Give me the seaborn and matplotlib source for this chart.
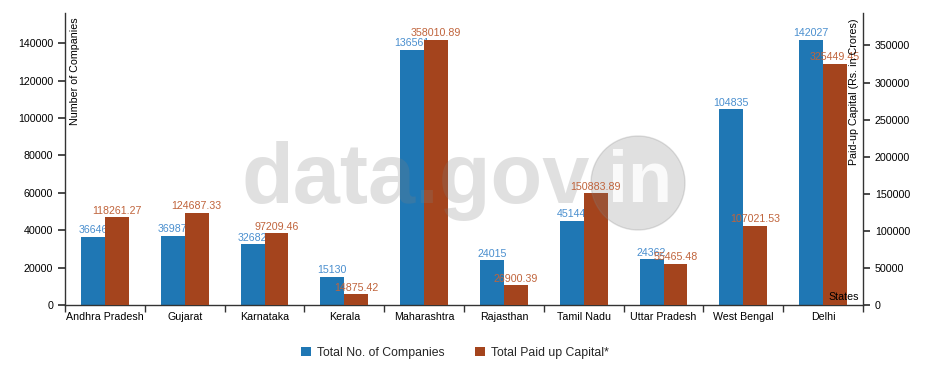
import numpy as np
import pandas as pd
import matplotlib
matplotlib.use('Agg')
import matplotlib.pyplot as plt
from matplotlib.patches import Circle
import seaborn as sns

states = ['Andhra Pradesh', 'Gujarat', 'Karnataka', 'Kerala', 'Maharashtra',
          'Rajasthan', 'Tamil Nadu', 'Uttar Pradesh', 'West Bengal', 'Delhi']
companies = [36646, 36987, 32682, 15130, 136561, 24015, 45144, 24362, 104835, 142027]
capital = [118261.27, 124687.33, 97209.46, 14875.42, 358010.89, 26900.39,
           150883.89, 55465.48, 107021.53, 325449.45]
series = ['Total No. of Companies', 'Total Paid up Capital*']

BLUE = '#1f77b4'
BROWN = '#a4441d'
BLUE_TXT = '#4a8fcf'
BROWN_TXT = '#c0643c'
AXIS = '#333333'
FS = 7.7

sns.set_theme(style='ticks')
plt.rcParams['font.family'] = ['Liberation Sans', 'DejaVu Sans']

n = len(states)
df = pd.DataFrame({
    'state': states * 2,
    'series': [series[0]] * n + [series[1]] * n,
    'left': companies + [np.nan] * n,
    'right': [np.nan] * n + capital,
})

fig = plt.figure(figsize=(9.26, 3.78), dpi=100)
ax = fig.add_axes([65 / 926, 1 - 305 / 378, (863 - 65) / 926, (305 - 13) / 378])
ax2 = ax.twinx()

pal = {series[0]: BLUE, series[1]: BROWN}
sns.barplot(data=df, x='state', y='left', hue='series', hue_order=series, palette=pal,
            width=0.6, gap=0, saturation=1, legend=False, ax=ax, order=states, linewidth=0)
sns.barplot(data=df, x='state', y='right', hue='series', hue_order=series, palette=pal,
            width=0.6, gap=0, saturation=1, legend=False, ax=ax2, order=states, linewidth=0)


def real_container(a):
    for c in a.containers:
        if len(c) and all(p is not None for p in c):
            return c


c_left = real_container(ax)
c_right = real_container(ax2)

ax.set_ylim(0, max(companies) * 1.1)
ax2.set_ylim(0, max(capital) * 1.1)
ax.set_xlim(-0.5, n - 0.5)
ax2.set_xlim(-0.5, n - 0.5)

ax.bar_label(c_left, labels=[str(v) for v in companies], padding=1,
             color=BLUE_TXT, fontsize=FS)
ax2.bar_label(c_right, labels=['%.2f' % v for v in capital], padding=1,
              color=BROWN_TXT, fontsize=FS)

ax.set_xlabel('')
ax.set_ylabel('')
ax2.set_ylabel('')
ax.set_xticks(range(n))
ax.set_xticklabels(states)
ax.set_xticks(np.arange(-0.5, n), minor=True)
ax.tick_params(axis='x', which='major', length=0, pad=5, labelsize=FS, colors='black')
ax.tick_params(axis='x', which='minor', length=5, color=AXIS)
ax.set_yticks(np.arange(0, 140001, 20000))
ax.tick_params(axis='y', length=5, labelsize=FS, color=AXIS, labelcolor='black')
ax2.set_yticks(np.arange(0, 350001, 50000))
ax2.tick_params(axis='y', length=5, labelsize=FS, color=AXIS, labelcolor='black')

for a in (ax, ax2):
    a.spines['top'].set_visible(False)
    for s in a.spines.values():
        s.set_color(AXIS)
        s.set_linewidth(1)
    a.grid(False)
ax.spines['right'].set_visible(False)
ax2.spines['left'].set_visible(False)
ax2.spines['bottom'].set_visible(False)

ax.text(0.012, 0.985, 'Number of Companies', transform=ax.transAxes, rotation=90,
        ha='center', va='top', fontsize=FS, color='black')
ax2.text(0.989, 0.98, 'Paid-up Capital (Rs. in Crores)', transform=ax2.transAxes,
         rotation=90, ha='center', va='top', fontsize=FS, color='black')
ax2.text(0.995, 0.01, 'States', transform=ax2.transAxes, ha='right', va='bottom',
         fontsize=FS, color='black')

# watermark, above the bars but under the value labels
ax2.text(242 / 926, 1 - 203 / 378, 'data.gov', transform=fig.transFigure, fontsize=61,
         fontweight='bold', color='#808080', alpha=0.24, ha='left', va='baseline',
         zorder=2.5)
ax2.add_patch(Circle((6.38, 1.95), 0.47, transform=fig.dpi_scale_trans,
                     color='#808080', alpha=0.24, zorder=2.5, clip_on=False))
ax2.text(6.40 / 9.26, 1.95 / 3.78, 'in', transform=fig.transFigure, fontsize=52,
         fontweight='bold', color='white', alpha=0.85, ha='center', va='center',
         zorder=2.6)

fig.legend(handles=[c_left, c_right], labels=series,
           loc='center', bbox_to_anchor=(455 / 926, 1 - 353 / 378), ncol=2,
           frameon=False, fontsize=8.8, handlelength=0.8, handleheight=0.8,
           handletextpad=0.5, columnspacing=2.5)

fig.savefig('out.png', dpi=100)
